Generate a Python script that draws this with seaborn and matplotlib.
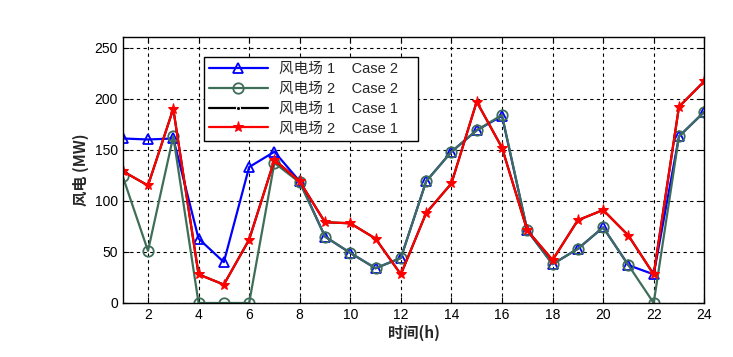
import matplotlib
matplotlib.use("Agg")
import matplotlib.pyplot as plt
import seaborn as sns
import numpy as np

hours = list(range(1, 25))
wf1_case2 = [161, 160, 161, 63, 40, 133, 148, 119, 65, 49, 34, 44, 119, 148, 169, 183, 71, 38, 53, 74, 37, 28, 163, 187]
wf2_case2 = [124, 51, 163, 0, 0, 0, 137, 118, 65, 49, 34, 44, 119, 148, 169, 184, 71, 38, 53, 74, 37, 0, 163, 187]
wf2_case1 = [129, 115, 190, 28, 18, 62, 140, 119, 79, 78, 63, 28, 88, 117, 197, 152, 71, 42, 81, 91, 66, 28, 192, 217]
wf1_case1 = list(wf2_case1)
labels = ["风电场 1    Case 2", "风电场 2    Case 2", "风电场 1    Case 1", "风电场 2    Case 1"]
xticks = list(range(2, 25, 2))
yticks = list(range(0, 251, 50))

sns.set_theme(style="white")
plt.rcParams['font.family'] = ['Liberation Sans', 'Noto Sans CJK SC', 'DejaVu Sans']

fig = plt.figure(figsize=(7.33, 3.57), dpi=100)
ax = fig.add_axes([0.1674, 0.1513, 0.7934, 0.7442])

green = "#3f6e58"
sns.lineplot(x=hours, y=wf1_case2, ax=ax, color="blue", marker="^", markersize=7.5,
             markerfacecolor="none", markeredgecolor="blue", markeredgewidth=1.3, linewidth=1.6, label=labels[0])
sns.lineplot(x=hours, y=wf2_case2, ax=ax, color=green, marker="o", markersize=7.5,
             markerfacecolor="none", markeredgecolor=green, markeredgewidth=1.3, linewidth=1.6, label=labels[1])
sns.lineplot(x=hours, y=wf1_case1, ax=ax, color="black", marker=".", markersize=6,
             linewidth=1.6, label=labels[2])
sns.lineplot(x=hours, y=wf2_case1, ax=ax, color="red", marker="*", markersize=8,
             markeredgecolor="red", linewidth=1.6, label=labels[3])

ax.set_xlim(1, 24)
ax.set_ylim(0, 260)
ax.set_xticks(xticks)
ax.set_yticks(yticks)
ax.grid(True, color="black", linestyle=(0, (3, 3)), linewidth=0.8)
ax.tick_params(direction="in", length=4, labelsize=10, colors="black", width=0.8,
               top=True, right=True, bottom=True, left=True)
for s in ax.spines.values():
    s.set_color("black")
    s.set_linewidth(1.0)

ax.set_xlabel("时间(h)", fontsize=11, fontweight="bold", family=['Noto Sans CJK SC', 'DejaVu Sans'], labelpad=2)
ax.set_ylabel("风电 (MW)", fontsize=11, fontweight="bold", family=['Noto Sans CJK SC', 'DejaVu Sans'], labelpad=4)

leg = ax.legend(loc="upper left", bbox_to_anchor=(0.14, 0.613, 0.368, 0.313), mode="expand",
                frameon=True, fancybox=False,
                edgecolor="black", framealpha=1, handlelength=4.0,
                borderpad=0.35, labelspacing=0.4, borderaxespad=0,
                prop={'family': ['Liberation Sans', 'Noto Sans CJK SC'], 'size': 10.5, 'weight': 500})
leg.get_frame().set_linewidth(1.0)

fig.savefig("out.png", dpi=100, facecolor="white")
